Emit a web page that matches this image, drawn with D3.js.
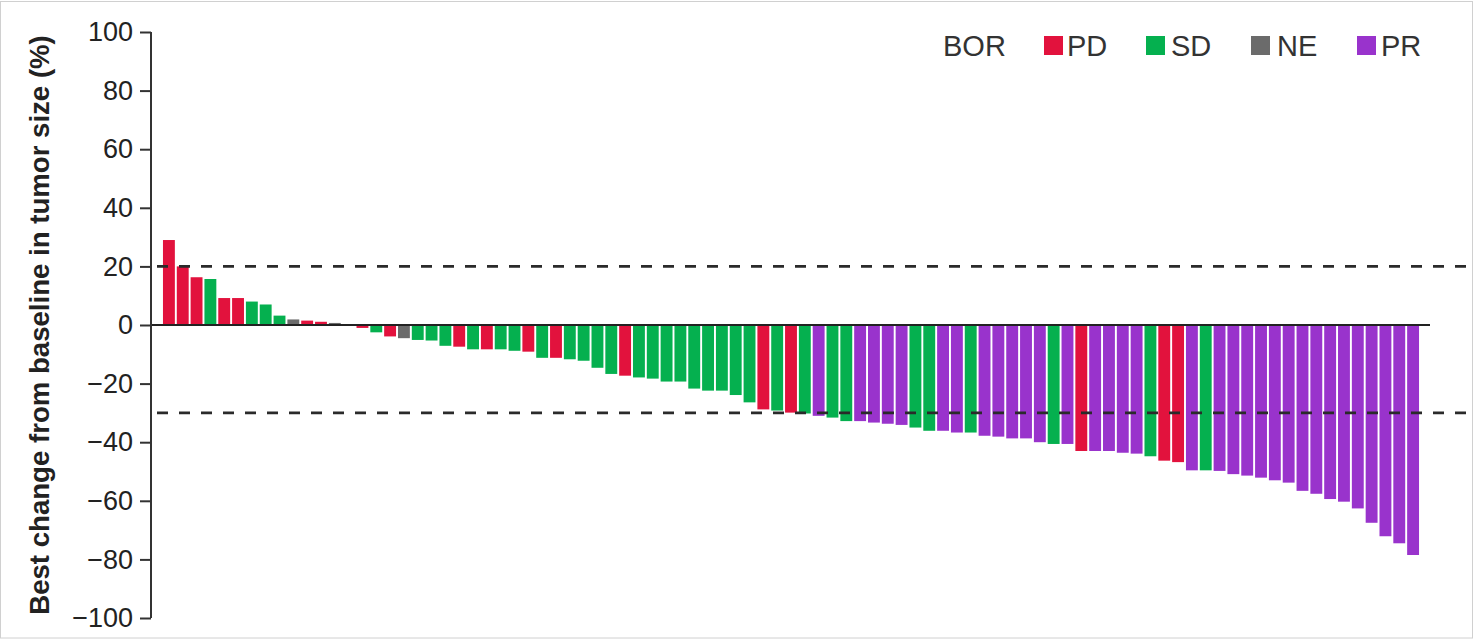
<!DOCTYPE html>
<html>
<head>
<meta charset="utf-8">
<script src="https://cdn.jsdelivr.net/npm/d3@7"></script>
<style>
  html, body { margin: 0; padding: 0; background: #fff; }
  svg { display: block; }
  text { font-family: "Liberation Sans", Arial, Helvetica, sans-serif; }
</style>
</head>
<body>
<div id="chart"></div>
<script>
// ---- Data ----
const patients = d3.range(1, 92).map(i => "P" + i);
const bestChange = [
  29, 20, 16.3, 15.7, 9.2, 9.2, 8, 7, 3.2, 1.9, 1.5, 1.1, 0.7, 0, -1,
  -2.5, -3.9, -4.5, -5.1, -5.3, -7.1, -7.4, -8.3, -8.3, -8.3, -8.8, -9.1, -11.2, -11.2, -11.7,
  -12.2, -14.6, -16.7, -17.3, -17.9, -18.3, -19.3, -19.3, -21.7, -22.4, -22.4, -23.9, -26.4, -28.8, -29.2,
  -29.9, -30.2, -31, -31.6, -32.8, -32.8, -33.3, -33.7, -34.1, -35, -36.1, -36.1, -36.7, -36.7, -37.8,
  -38.1, -38.7, -38.7, -40, -40.6, -40.6, -43, -43, -43, -43.6, -43.9, -44.8, -46.3, -46.8, -49.6,
  -49.6, -49.8, -50.9, -51.4, -52.1, -53, -53.8, -56.6, -57.6, -59.4, -60.3, -62.6, -67.5, -72.1, -74.5, -78.5
];
const response = [
  "PD","PD","PD","SD","PD","PD","SD","SD","SD","NE","PD","PD","NE","SD","PD",
  "SD","PD","NE","SD","SD","SD","PD","SD","PD","SD","SD","PD","SD","PD","SD",
  "SD","SD","SD","PD","SD","SD","SD","SD","SD","SD","SD","SD","SD","PD","SD",
  "PD","SD","PR","SD","SD","PR","PR","PR","PR","SD","SD","PR","PR","SD","PR",
  "PR","PR","PR","PR","SD","PR","PD","PR","PR","PR","PR","SD","PD","PD","PR",
  "SD","PR","PR","PR","PR","PR","PR","PR","PR","PR","PR","PR","PR","PR","PR","PR"
];
const legendCats = ["PD", "SD", "NE", "PR"];
const legendColors = ["#e2123d", "#05b04f", "#6b6b6b", "#9933cc"];
const yTicks = [100, 80, 60, 40, 20, 0, -20, -40, -60, -80, -100];
const thresholds = [20, -30];
const yTitle = "Best change from baseline in tumor size (%)";
const legendTitle = "BOR";

// ---- Layout ----
const W = 1474, H = 639;
const svg = d3.select("#chart").append("svg").attr("width", W).attr("height", H);

svg.append("rect").attr("x", 0.5).attr("y", 1.5).attr("width", W - 2).attr("height", H - 2.5)
  .attr("fill", "#fff").attr("stroke", "#d0d0d0").attr("stroke-width", 1);

const axisX = 151;
const y = d3.scaleLinear().domain([-100, 100]).range([618, 32]);
const x = d3.scaleBand().domain(patients).range([162, 1420]).paddingInner(0.14).paddingOuter(0.07);
const color = d3.scaleOrdinal().domain(legendCats).range(legendColors);

const data = patients.map((p, i) => ({ id: p, v: bestChange[i], r: response[i] }));

// bars
svg.append("g").selectAll("rect").data(data).join("rect")
  .attr("x", d => x(d.id))
  .attr("width", x.bandwidth())
  .attr("y", d => y(Math.max(0, d.v)))
  .attr("height", d => Math.abs(y(d.v) - y(0)))
  .attr("fill", d => color(d.r));

// zero line
svg.append("line").attr("x1", axisX).attr("x2", 1430).attr("y1", y(0)).attr("y2", y(0))
  .attr("stroke", "#222").attr("stroke-width", 2);

// threshold dashed lines
svg.append("g").selectAll("line").data(thresholds).join("line")
  .attr("x1", axisX + 6).attr("x2", 1470)
  .attr("y1", d => y(d)).attr("y2", d => y(d))
  .attr("stroke", "#2a2a2a").attr("stroke-width", 2.6)
  .attr("stroke-dasharray", "11,11");

// y axis
const yAxis = d3.axisLeft(y).tickValues(yTicks).tickSize(11).tickPadding(7)
  .tickFormat(d => d < 0 ? "\u2212" + Math.abs(d) : String(d));
const gy = svg.append("g").attr("transform", `translate(${axisX},0)`).call(yAxis);
gy.select(".domain").attr("stroke", "#333").attr("stroke-width", 2).attr("d", `M0,${y(100)}V${y(-100)}`);
gy.selectAll(".tick line").attr("stroke", "#333").attr("stroke-width", 2);
gy.selectAll(".tick text").attr("fill", "#222").style("font-size", "27px")
  .style("font-family", '"Liberation Sans", Arial, sans-serif');

// y title
svg.append("text")
  .attr("transform", `translate(49,325) rotate(-90)`)
  .attr("text-anchor", "middle")
  .attr("fill", "#222")
  .style("font-size", "27.6px").style("font-weight", "bold")
  .text(yTitle);

// legend
const lg = svg.append("g");
lg.append("text").attr("x", 943).attr("y", 55.5).attr("fill", "#333").style("font-size", "29px").text(legendTitle);
const legendX = [1044, 1146, 1251, 1357];
const legendTextX = [1067, 1171, 1277, 1381];
legendCats.forEach((c, i) => {
  lg.append("rect").attr("x", legendX[i]).attr("y", 36).attr("width", 19).attr("height", 19).attr("fill", legendColors[i]);
  lg.append("text").attr("x", legendTextX[i]).attr("y", 55.5).attr("fill", "#333").style("font-size", "29px").text(c);
});
</script>
</body>
</html>
